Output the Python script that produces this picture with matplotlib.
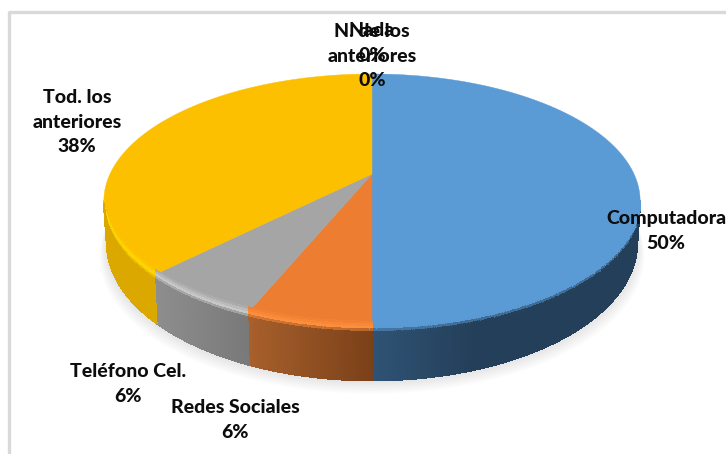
import numpy as np
import matplotlib
matplotlib.use('Agg')
import matplotlib.pyplot as plt
from matplotlib.collections import PolyCollection
from matplotlib.colors import to_rgb
from matplotlib.patches import Polygon

# clockwise from the top
categories = ['Computadora', 'Redes Sociales', 'Teléfono Cel.', 'Tod. los\nanteriores', 'Nada', 'N. de los\nanteriores']
percents = [50, 6.25, 6.25, 37.5, 0, 0]
top_colors = ['#5b9bd5', '#ed7d31', '#a5a5a5', '#fdc000', '#fdc000', '#fdc000']
rim_colors = ['#5b9bd5', '#ff8f3c', '#c8c8c8', '#ffd800', '#ffd800', '#ffd800']
wall_left = ['#2f5375', '#a8602c', '#8e8e8e', '#dba800', '#dba800', '#dba800']
wall_right = ['#243f59', '#7a4019', '#797979', '#dba800', '#dba800', '#dba800']
label_pos = [(666, 231), (235, 420), (128, 384), (77, 122), (372, 43), (372, 56)]

# fake perspective for the disc
CX, CY, A, B, K = 372, 174, 262, 121.3, 0.2126
CY2, A2, B2 = 214, 259, 131


def project(theta, cy=CY, a=A, b=B):
    u, v = np.sin(theta), -np.cos(theta)
    return CX + a * u / (1 - K * v), cy + b * v / (1 - K * v)


def mix(c1, c2, t):
    c1, c2 = np.array(to_rgb(c1)), np.array(to_rgb(c2))
    return tuple(c1 + (c2 - c1) * np.clip(t, 0, 1))


def wall_shade(i, t, x, x0, x1):
    # t < 0 is on the top face, t > 0 going down the side
    side = mix(wall_left[i], wall_right[i], (x - x0) / max(x1 - x0, 1))
    if i == 0:
        side = mix(wall_left[i], wall_right[i], (x - 372) / 100)
    if t < 0:
        return mix(top_colors[i], rim_colors[i], (t + 0.12) / 0.12)
    return mix(rim_colors[i], side, t / 0.1)


fig = plt.figure(figsize=(7.26, 4.54), dpi=100)
ax = fig.add_axes([0, 0, 1, 1])
ax.set_xlim(0, 726)
ax.set_ylim(454, 0)
ax.axis('off')

# chart frame
ax.plot([726, 9, 9], [11.5, 11.5, 454], color='#d9d9d9', lw=2.4, solid_capstyle='butt')

# soft shadow under the disc
circle = np.linspace(0, 2 * np.pi, 300)
for n in range(10):
    sx, sy = project(circle, CY2 + 1.5 * n, A2 + 0.8 * n, B2)
    ax.add_patch(Polygon(np.c_[sx, sy], fc='black', ec='none', alpha=0.012, zorder=1))

edges = np.cumsum([0] + percents) / 100 * 2 * np.pi

# top face
for i in range(len(percents)):
    if percents[i] == 0:
        continue
    th = np.linspace(edges[i], edges[i + 1], 200)
    x, y = project(th)
    ax.add_patch(Polygon(np.r_[[[CX, CY]], np.c_[x, y]], fc=top_colors[i], ec=top_colors[i], lw=0.3, zorder=2))

# side wall with the bevel along the front rim
steps = np.linspace(-0.12, 1, 24)
for i in range(len(percents)):
    if percents[i] == 0:
        continue
    th = np.linspace(edges[i], edges[i + 1], int(percents[i] * 12) + 2)
    th = th[-np.cos(th) > K]
    if len(th) < 2:
        continue
    xs = project(th)[0]
    x0, x1 = xs.min(), xs.max()
    quads, colors = [], []
    for a0, a1 in zip(th[:-1], th[1:]):
        for t0, t1 in zip(steps[:-1], steps[1:]):
            pts = []
            for a, t in [(a0, t0), (a1, t0), (a1, t1), (a0, t1)]:
                xt, yt = project(a)
                xb, yb = project(a, CY2, A2, B2)
                if t < 0:
                    # fades out towards the sides of the disc
                    fade = min((-np.cos(a) - K) / 0.15, 1)
                    pts.append((xt, yt + t * (yb - yt) * fade))
                else:
                    pts.append((xt + (xb - xt) * t, yt + (yb - yt) * t))
            quads.append(pts)
            colors.append(wall_shade(i, (t0 + t1) / 2, np.mean([p[0] for p in pts]), x0, x1))
    ax.add_collection(PolyCollection(quads, facecolors=colors, edgecolors=colors, linewidths=0.8,
                                     antialiaseds=False, zorder=3))

# data labels
for name, pct, pos in zip(categories, percents, label_pos):
    ax.text(pos[0], pos[1], f'{name}\n{pct:.0f}%', ha='center', va='center', family='Lato',
            fontweight='black', fontsize=14, color='#0d0d0d', linespacing=1.55, zorder=5)

fig.savefig('out.png', dpi=100)
